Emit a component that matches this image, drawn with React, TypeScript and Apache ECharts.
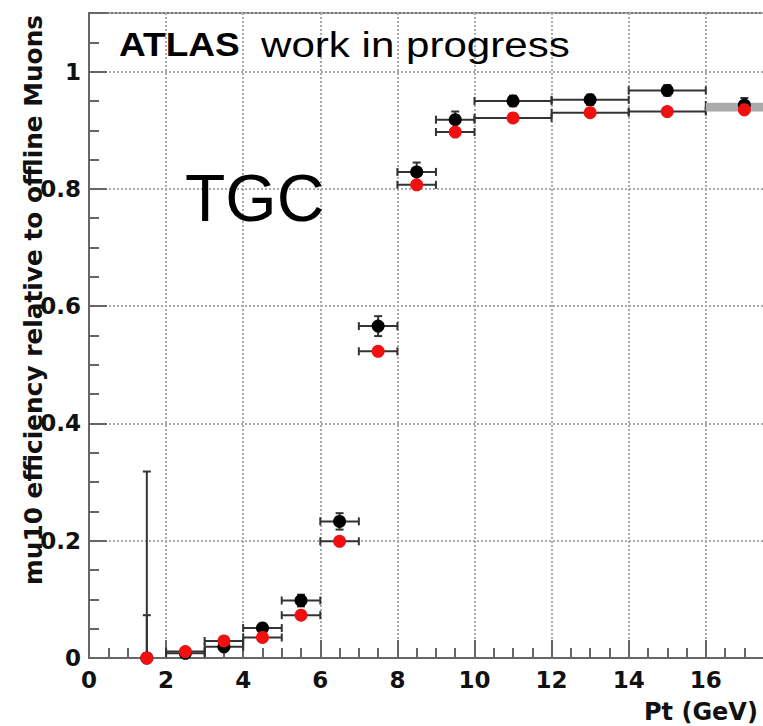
import React, { useEffect, useRef } from "react";
import * as echarts from "echarts";

// ---- data ----
const binLow = [1, 2, 3, 4, 5, 6, 7, 8, 9, 10, 12, 14, 16];
const binHigh = [2, 3, 4, 5, 6, 7, 8, 9, 10, 12, 14, 16, 18];
const binCenter = [1.5, 2.5, 3.5, 4.5, 5.5, 6.5, 7.5, 8.5, 9.5, 11, 13, 15, 17];
const showXErr = [false, true, true, true, true, true, true, true, true, true, true, true, true];

const effBlack = [0, 0.008, 0.019, 0.051, 0.098, 0.233, 0.566, 0.829, 0.918, 0.95, 0.952, 0.968, 0.943];
const errBlackUp = [0.318, 0.005, 0.006, 0.008, 0.01, 0.014, 0.017, 0.016, 0.014, 0.009, 0.009, 0.009, 0.012];
const errBlackDown = [0, 0.005, 0.006, 0.008, 0.01, 0.014, 0.017, 0.016, 0.014, 0.009, 0.009, 0.009, 0.012];

const effRed = [0, 0.011, 0.029, 0.035, 0.073, 0.199, 0.523, 0.807, 0.897, 0.921, 0.93, 0.932, 0.935];
const errRedUp = [0.073, 0.004, 0.004, 0.004, 0.005, 0.006, 0.007, 0.006, 0.005, 0.004, 0.004, 0.004, 0.004];
const errRedDown = [0, 0.004, 0.004, 0.004, 0.005, 0.006, 0.007, 0.006, 0.005, 0.004, 0.004, 0.004, 0.004];

// last bin shown as a grey band: [xLow, xHigh, yLow, yHigh]
const lastBinBand = [16, 18, 0.932, 0.947];

const yTickValues = [0, 0.2, 0.4, 0.6, 0.8, 1];
const yTickLabels = ["0", "0.2", "0.4", "0.6", "0.8", "1"];
const xTickValues = [0, 2, 4, 6, 8, 10, 12, 14, 16];
const xTickLabels = ["0", "2", "4", "6", "8", "10", "12", "14", "16"];

const yTitle = "mu10 efficiency relative to offline Muons";
const xTitle = "Pt (GeV)";
const atlasText = "ATLAS";
const wipText = "work in progress";
const tgcText = "TGC";

const LABEL_FONT = "'DejaVu Sans', sans-serif";
const HELV = "'Liberation Sans', Arial, sans-serif";

function errRows(eff: number[], up: number[], down: number[]) {
  return binCenter.map((x, i) => [x, eff[i], binLow[i], binHigh[i], eff[i] - down[i], eff[i] + up[i], showXErr[i] ? 1 : 0]);
}

function makeErrRender(color: string) {
  return (params: any, api: any) => {
    const xc = api.value(0);
    const y = api.value(1);
    const xl = api.value(2);
    const xh = api.value(3);
    const yl = api.value(4);
    const yh = api.value(5);
    const withX = api.value(6) > 0;
    const pL = api.coord([xl, y]);
    const pH = api.coord([xh, y]);
    const pLo = api.coord([xc, yl]);
    const pHi = api.coord([xc, yh]);
    const style = { stroke: color, lineWidth: 2 };
    const c = 4;
    const children: any[] = [];
    if (withX) {
      children.push({ type: "line", shape: { x1: pL[0], y1: pL[1], x2: pH[0], y2: pH[1] }, style });
      children.push({ type: "line", shape: { x1: pL[0], y1: pL[1] - c, x2: pL[0], y2: pL[1] + c }, style });
      children.push({ type: "line", shape: { x1: pH[0], y1: pH[1] - c, x2: pH[0], y2: pH[1] + c }, style });
    }
    if (Math.abs(pLo[1] - pHi[1]) > 0.5) {
      children.push({ type: "line", shape: { x1: pLo[0], y1: pLo[1], x2: pHi[0], y2: pHi[1] }, style });
      children.push({ type: "line", shape: { x1: pHi[0] - c, y1: pHi[1], x2: pHi[0] + c, y2: pHi[1] }, style });
      if (Math.abs(pLo[1] - pHi[1]) < 100) {
        children.push({ type: "line", shape: { x1: pLo[0] - c, y1: pLo[1], x2: pLo[0] + c, y2: pLo[1] }, style });
      }
    }
    return { type: "group", children };
  };
}

function labelFor(values: number[], labels: string[]) {
  return (v: number) => {
    const i = values.findIndex((t) => Math.abs(t - v) < 1e-6);
    return i >= 0 ? labels[i] : "";
  };
}

export default function App() {
  const ref = useRef<HTMLDivElement>(null);

  useEffect(() => {
    const chart = echarts.init(ref.current!, null, { renderer: "svg" });
    const axisColor = "#666";
    const gridLine = { show: true, lineStyle: { color: "#aaa", width: 2, type: [2, 2] as any } };

    const option: any = {
      animation: false,
      backgroundColor: "#fff",
      grid: {
        left: 89,
        top: 13,
        width: 771,
        height: 645,
        show: true,
        borderColor: "#777",
        borderWidth: 2,
        backgroundColor: "transparent",
      },
      xAxis: {
        type: "value",
        min: 0,
        max: 20,
        interval: 2,
        axisLine: { show: true, lineStyle: { color: axisColor, width: 2 } },
        axisTick: { show: true, inside: true, length: 18, lineStyle: { color: axisColor, width: 2 } },
        minorTick: { show: true, splitNumber: 4, length: 10, lineStyle: { color: axisColor, width: 2 } },
        splitLine: gridLine,
        axisLabel: {
          margin: 10,
          color: "#111",
          fontFamily: LABEL_FONT,
          fontWeight: "bold",
          fontSize: 23,
          formatter: labelFor(xTickValues, xTickLabels),
        },
      },
      yAxis: {
        type: "value",
        min: 0,
        max: 1.1,
        interval: 0.2,
        axisLine: { show: true, lineStyle: { color: axisColor, width: 2 } },
        axisTick: { show: true, inside: true, length: 18, lineStyle: { color: axisColor, width: 2 } },
        minorTick: { show: true, splitNumber: 4, length: 10, lineStyle: { color: axisColor, width: 2 } },
        splitLine: gridLine,
        axisLabel: {
          margin: 8,
          color: "#111",
          fontFamily: LABEL_FONT,
          fontWeight: "bold",
          fontSize: 23,
          showMaxLabel: false,
          formatter: labelFor(yTickValues, yTickLabels),
        },
      },
      series: [
        {
          type: "custom",
          name: "black errors",
          renderItem: makeErrRender("#333"),
          encode: { x: [0, 2, 3], y: [1, 4, 5] },
          data: errRows(effBlack, errBlackUp, errBlackDown),
          z: 2,
        },
        {
          type: "custom",
          name: "red errors",
          renderItem: makeErrRender("#333"),
          encode: { x: [0, 2, 3], y: [1, 4, 5] },
          data: errRows(effRed, errRedUp, errRedDown),
          z: 3,
        },
        {
          type: "custom",
          name: "band",
          renderItem: (params: any, api: any) => {
            const p1 = api.coord([api.value(0), api.value(3)]);
            const p2 = api.coord([api.value(1), api.value(2)]);
            return {
              type: "rect",
              shape: { x: p1[0], y: p1[1], width: p2[0] - p1[0], height: p2[1] - p1[1] },
              style: { fill: "#aaaaaa" },
            };
          },
          encode: { x: [0, 1], y: [2, 3] },
          data: [lastBinBand],
          z: 4,
        },
        {
          type: "scatter",
          name: "black",
          symbol: "circle",
          symbolSize: 13,
          itemStyle: { color: "#000", opacity: 1 },
          data: binCenter.map((x, i) => [x, effBlack[i]]),
          z: 5,
        },
        {
          type: "scatter",
          name: "red",
          symbol: "circle",
          symbolSize: 13,
          itemStyle: { color: "#f01010", opacity: 1 },
          data: binCenter.map((x, i) => [x, effRed[i]]),
          z: 6,
        },
      ],
      graphic: [
        {
          type: "text",
          x: 119,
          y: 45,
          scaleX: 1.09,
          z: 10,
          style: {
            text: atlasText,
            fill: "#000",
            font: `bold 34px ${HELV}`,
            textAlign: "left",
            textVerticalAlign: "middle",
          },
        },
        {
          type: "text",
          x: 261,
          y: 45,
          scaleX: 1.17,
          z: 10,
          style: {
            text: wipText,
            fill: "#000",
            font: `normal 36px ${HELV}`,
            textAlign: "left",
            textVerticalAlign: "middle",
          },
        },
        {
          type: "text",
          x: 185,
          y: 198,
          z: 10,
          style: {
            text: tgcText,
            fill: "#000",
            font: `normal 66px ${HELV}`,
            textAlign: "left",
            textVerticalAlign: "middle",
          },
        },
        {
          type: "text",
          x: 33,
          y: 300,
          rotation: Math.PI / 2,
          z: 10,
          style: {
            text: yTitle,
            fill: "#111",
            font: `bold 24.8px ${LABEL_FONT}`,
            textAlign: "center",
            textVerticalAlign: "middle",
          },
        },
        {
          type: "text",
          x: 644,
          y: 712,
          z: 10,
          style: {
            text: xTitle,
            fill: "#111",
            font: `bold 24px ${LABEL_FONT}`,
            textAlign: "left",
            textVerticalAlign: "middle",
          },
        },
      ],
    };
    chart.setOption(option);
    return () => chart.dispose();
  }, []);

  return (
    <div style={{ position: "fixed", left: 0, top: 0, width: 763, height: 726, overflow: "hidden", background: "#fff" }}>
      <div ref={ref} style={{ position: "absolute", left: 0, top: 0, width: 880, height: 726 }} />
    </div>
  );
}
